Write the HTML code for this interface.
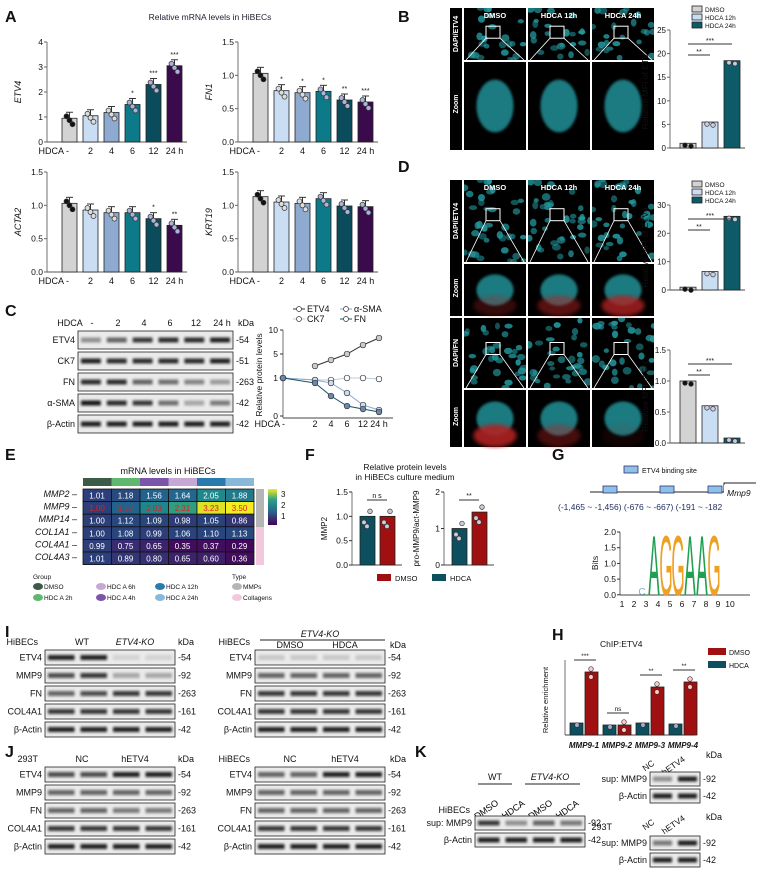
<!DOCTYPE html>
<html><head><meta charset="utf-8"><style>
body{margin:0;background:#fff}
svg{display:block;font-family:"Liberation Sans",Arial,sans-serif}
</style></head><body>
<svg id="s" width="765" height="882" viewBox="0 0 765 882" xmlns="http://www.w3.org/2000/svg">
<defs>
<filter id="bl" x="-20%" y="-50%" width="140%" height="200%"><feGaussianBlur stdDeviation="1.2"/></filter>
<filter id="bl2"><feGaussianBlur stdDeviation="2"/></filter>
</defs>
<g id="g"></g>
</svg>
<script>
const G=document.getElementById('g');let h='';
function T(x,y,t,o={}){h+=`<text x="${x}" y="${y}" font-size="${o.s||9}" fill="${o.c||'#111'}" text-anchor="${o.a||'start'}" ${o.b?'font-weight="bold"':''} ${o.i?'font-style="italic"':''} ${o.r?`transform="rotate(${o.r} ${x} ${y})"`:''}>${t}</text>`}
function R(x,y,w,hh,f,st){h+=`<rect x="${x}" y="${y}" width="${w}" height="${hh}" fill="${f}" ${st?`stroke="${st}" stroke-width="0.8"`:''}/>`}
function L(x1,y1,x2,y2,c,w){h+=`<line x1="${x1}" y1="${y1}" x2="${x2}" y2="${y2}" stroke="${c||'#333'}" stroke-width="${w||1}"/>`}
function C(x,y,r,f,st){h+=`<circle cx="${x}" cy="${y}" r="${r}" fill="${f}" stroke="${st||'#333'}" stroke-width="0.7"/>`}
[['A',5,22],['B',398,22],['C',5,316],['D',398,172],['E',5,460],['F',305,460],['G',552,460],['I',5,637],['H',552,640],['J',5,757],['K',415,757]].forEach(p=>T(p[1],p[2],p[0],{s:16,b:1}));
T(210,20,'Relative mRNA levels in HiBECs',{s:8.5,a:'middle',c:'#223'});
const cols=['#d3d3d3','#c9ddf3','#8eaad0','#0d7a8a','#0a4c5c','#3b0a4c'];
function barchart(ax,top,bot,ymax,ticks,vals,lab,stars){
 L(ax,top,ax,bot,'#888',1.2);L(ax,bot,ax+140,bot,'#555',1);
 ticks.forEach(t=>{let y=bot-(t/ymax)*(bot-top);L(ax-3,y,ax,y,'#666');T(ax-4,y+3,t,{s:8.5,a:'end'})});
 T(ax-26,(top+bot)/2,lab,{s:9,i:1,a:'middle',r:-90});
 vals.forEach((v,i)=>{let x=ax+15+i*21,y=bot-(v/ymax)*(bot-top);R(x,y,15,bot-y,cols[i],'#222');L(x+7.5,y,x+7.5,y-6,'#333');L(x+4,y-6,x+11,y-6,'#333');
  [-3,0,3].forEach((d,k)=>C(x+7.5+d,y+(k-1)*4+2,2.5,i==0?'#111':(i<3?'#ddd':'#aab4d8')));
  if(stars&&stars[i])T(x+7.5,y-9,stars[i],{s:7,a:'middle'});});
 ['HDCA -','2','4','6','12','24 h'].forEach((t,i)=>T(i==0?ax+22:ax+22.5+i*21,bot+12,t,{s:9,a:i==0?'end':'middle'}));
}
barchart(47,42,142,4,[0,1,2,3,4],[0.95,1.05,1.18,1.5,2.3,3.05],'ETV4',['','','','*','***','***']);
barchart(238,42,142,1.5,['0.0','0.5','1.0','1.5'],[1.03,0.77,0.74,0.76,0.63,0.6],'FN1',['','*','*','*','**','***']);
barchart(47,172,272,1.5,['0.0','0.5','1.0','1.5'],[1.03,0.93,0.89,0.89,0.8,0.7],'ACTA2',['','','','','*','**']);
barchart(238,172,272,1.5,['0.0','0.5','1.0','1.5'],[1.13,1.05,1.03,1.1,0.99,0.98],'KRT19',['','','','','','']);
function cells(x,y,w,hh,col,n,seed){let s=seed;function r(){s=(s*9301+49297)%233280;return s/233280}
 R(x,y,w,hh,'#000');h+=`<svg x="${x}" y="${y}" width="${w}" height="${hh}">`;for(let i=0;i<n;i++){h+=`<ellipse cx="${r()*w}" cy="${r()*hh}" rx="${2.5+r()*2}" ry="${2+r()*2}" fill="${col}" opacity="${0.5+r()*0.4}"/>`}h+='</svg>'}
function zoomc(x,y,w,hh,col,red){R(x,y,w,hh,'#000');h+=`<ellipse cx="${x+w/2}" cy="${y+hh/2}" rx="${w*0.3}" ry="${hh*0.3}" fill="${col}" opacity="0.8" filter="url(#bl)"/>`;if(red)h+=`<ellipse cx="${x+w/2}" cy="${y+hh*0.8}" rx="${w*0.35}" ry="${hh*0.2}" fill="#b02020" opacity="${red}" filter="url(#bl2)"/>`}
function micro(x,y,rows){
 let cy=y;rows.forEach((rw,ri)=>{R(x,cy,12,rw[0]+rw[1]+2,'#000');T(x+8,cy+rw[0]/2,rw[2],{s:7,c:'#fff',a:'middle',r:-90,b:1});T(x+8,cy+rw[0]+rw[1]/2,'Zoom',{s:7,c:'#fff',a:'middle',r:-90,b:1});
  for(let c=0;c<3;c++){let cx=x+14+c*64;cells(cx,cy,62,rw[0],rw[3],Math.round(rw[0]*0.45),ri*7+c*3+1);h+=`<rect x="${cx+22}" y="${cy+rw[0]*0.35}" width="14" height="12" fill="none" stroke="#fff"/>`;
   L(cx+22,cy+rw[0]*0.35+12,cx+2,cy+rw[0],'#fff',0.8);L(cx+36,cy+rw[0]*0.35+12,cx+60,cy+rw[0],'#fff',0.8);
   zoomc(cx,cy+rw[0]+2,62,rw[1],rw[3],rw[4]?rw[4][c]:0);}
  cy+=rw[0]+rw[1]+4;});
 ['DMSO','HDCA 12h','HDCA 24h'].forEach((t,c)=>T(x+45+c*64,y+10,t,{s:7.5,c:'#fff',a:'middle',b:1}));
}
micro(450,8,[[52,88,'DAPI/ETV4','#239aa0',[0,0,0]]]);
micro(450,180,[[82,52,'DAPI/ETV4','#239aa0',[0.3,0.5,0.8]],[70,57,'DAPI/FN','#239aa0',[0.9,0.4,0.1]]]);
function sbar(ax,top,bot,ymax,ticks,vals,lab,leg){L(ax,top,ax,bot,'#888',1.2);L(ax,bot,ax+75,bot,'#444');
 ticks.forEach(t=>{let y=bot-(t/ymax)*(bot-top);L(ax-3,y,ax,y,'#666');T(ax-4,y+3,t,{s:8,a:'end'})});
 T(ax-22,(top+bot)/2,lab,{s:8.5,a:'middle',r:-90});
 const cc=['#d3d3d3','#c9ddf3','#0d5a68'];vals.forEach((v,i)=>{let x=ax+10+i*22,y=bot-(v/ymax)*(bot-top);R(x,y,16,bot-y,cc[i],'#222');C(x+5,y+2,2.3,i==0?'#111':'#ccd');C(x+11,y+3,2.3,i==0?'#111':'#ccd')});
 L(ax+18,top+25,ax+40,top+25);T(ax+29,top+24,'**',{s:7,a:'middle'});L(ax+18,top+14,ax+62,top+14);T(ax+40,top+13,'***',{s:7,a:'middle'});
 if(leg){[0,1,2].forEach(i=>{R(ax+22,top-8+i*8-16,10,6,cc[i],'#222');T(ax+35,top-8+i*8-10,['DMSO','HDCA 12h','HDCA 24h'][i],{s:6.5})})}}
sbar(670,30,148,25,[0,5,10,15,20,25],[1,5.5,18.5],'Relative MFI of ETV4',1);
sbar(670,205,290,30,[0,10,20,30],[1,6.5,26],'Relative MFI of ETV4',1);
sbar(670,350,443,1.5,['0.0','0.5','1.0','1.5'],[1,0.6,0.08],'Relative MFI of FN',0);
function blot(x,y,w,hh,lanes){R(x,y,w,hh,'#eaeaea','#222');lanes.forEach((a,i)=>{let lw=w/lanes.length;h+=`<rect x="${x+i*lw+3}" y="${y+hh/2-2.5}" width="${lw-6}" height="5" fill="#111" opacity="${a}" filter="url(#bl)"/>`})}
function blotset(x,y,w,rows,kd,rh){rows.forEach((r,i)=>{let yy=y+i*(rh+3);T(x-3,yy+rh/2+3,r[0],{s:9,a:'end'});blot(x,yy,w,rh,r[1]);T(x+w+3,yy+rh/2+3,'-'+kd[i],{s:9})})}
T(70,326,'HDCA',{s:9,a:'middle'});['-','2','4','6','12','24 h'].forEach((t,i)=>T(92+i*26,326,t,{s:9,a:'middle'}));T(238,326,'kDa',{s:9});
blotset(78,331,155,[['ETV4',[.4,.6,.8,.85,.85,.9]],['CK7',[.9,.85,.85,.85,.85,.9]],['FN',[.85,.85,.6,.55,.45,.35]],['α-SMA',[.95,.85,.8,.55,.3,.5]],['β-Actin',[.9,.9,.9,.9,.9,.9]]],['54','51','263','42','42'],18);
{let ax=283;L(ax,330,ax,418,'#888',1.2);L(ax,418,ax+110,418,'#444');T(262,375,'Relative protein levels',{s:8.5,a:'middle',r:-90});
[['10',330],['5',354],['1',378],['0',416]].forEach(t=>{L(ax-3,t[1],ax,t[1]);T(ax-5,t[1]+3,t[0],{s:8.5,a:'end'})});
T(ax+2,427,'HDCA -',{s:9,a:'end'});['2','4','6','12','24 h'].forEach((t,i)=>T(ax+32+[0,16,32,48,64][i],427,t,{s:9,a:'middle'}));
const xs=[ax,ax+32,ax+48,ax+64,ax+80,ax+96];
function ser(ys,c,f){h+=`<polyline points="${xs.slice(ys[0]==null?1:0).map((x,i)=>x+','+ys.filter(v=>v!=null)[i]).join(' ')}" fill="none" stroke="${c}" stroke-width="1"/>`;ys.forEach((y,i)=>{if(y!=null)C(xs[i],y,2.8,f)})}
ser([null,366,360,354,345,338],'#333','#ccc');ser([378,380,380,378,378,379],'#bcd','#fff');ser([378,380,383,393,405,410],'#8aa8d0','#c9ddf3');ser([378,383,396,406,409,412],'#1a5060','#6a88b0');
[['ETV4','#333',293,312],['α-SMA','#8aa8d0',340,312],['CK7','#bcd',293,322],['FN','#1a5060',340,322]].forEach(l=>{L(l[2],l[3]-3,l[2]+12,l[3]-3,l[1]);C(l[2]+6,l[3]-3,2.5,'#fff');T(l[2]+14,l[3],l[0],{s:9})});}
T(168,474,'mRNA levels in HiBECs',{s:9,a:'middle'});
['#3b5b46','#5fb86e','#7a55a8','#c6a8d4','#2a7ab0','#8ab8d8'].forEach((c,i)=>R(83+i*28.5,478,28.5,8,c));
const hv=[[1.01,1.18,1.56,1.64,2.05,1.88],[1.00,1.57,2.03,2.31,3.23,3.50],[1.00,1.12,1.09,0.98,1.05,0.86],[1.00,1.08,0.99,1.06,1.10,1.13],[0.99,0.75,0.65,0.35,0.37,0.29],[1.01,0.89,0.80,0.65,0.60,0.36]];
function vcol(v){const st=[[0.2,[68,1,84]],[0.7,[59,40,110]],[1.1,[40,70,125]],[1.6,[35,100,140]],[2.1,[30,140,140]],[2.5,[70,170,110]],[3.2,[220,225,40]],[3.6,[250,240,30]]];
 for(let i=0;i<st.length-1;i++){if(v<=st[i+1][0]){let t=Math.max(0,(v-st[i][0])/(st[i+1][0]-st[i][0]));let c=st[i][1].map((a,k)=>Math.round(a+(st[i+1][1][k]-a)*t));return `rgb(${c})`}}return 'rgb(250,240,30)'}
const gn=['MMP2','MMP9','MMP14','COL1A1','COL4A1','COL4A3'];
hv.forEach((r,ri)=>{T(77,497+ri*12.6,gn[ri]+' –',{s:9,i:1,a:'end'});r.forEach((v,ci)=>{R(83+ci*28.5,489+ri*12.6,28.5,12.6,vcol(v),'#111');T(97+ci*28.5,498.5+ri*12.6,v.toFixed(2),{s:8,a:'middle',c:ri==1?'#e02020':'#fff'})})});
R(256,489,8,38,'#b5b5b5');R(256,527,8,38,'#f4c8dc');
h+=`<defs><linearGradient id="vg" x1="0" y1="1" x2="0" y2="0"><stop offset="0" stop-color="#44015a"/><stop offset=".4" stop-color="#2a6a8a"/><stop offset=".7" stop-color="#2aa08a"/><stop offset="1" stop-color="#f0e820"/></linearGradient></defs>`;
R(268,489,9,36,'url(#vg)');['3','2','1'].forEach((t,i)=>T(281,497+i*11,t,{s:8}));
T(33,579,'Group',{s:6.5});T(232,579,'Type',{s:6.5});
[['DMSO','#3b5b46',33,589],['HDC A 6h','#c6a8d4',96,589],['HDC A 12h','#2a7ab0',155,589],['MMPs','#b5b5b5',232,589],['HDC A 2h','#5fb86e',33,600],['HDC A 4h','#7a55a8',96,600],['HDC A 24h','#8ab8d8',155,600],['Collagens','#f4c8dc',232,600]].forEach(l=>{h+=`<ellipse cx="${l[2]+5}" cy="${l[3]-2.5}" rx="5" ry="3.5" fill="${l[1]}"/>`;T(l[2]+11,l[3],l[0],{s:6.5})});
T(405,470,'Relative protein levels',{s:8.5,a:'middle'});T(405,480,'in HiBECs culture medium',{s:8.5,a:'middle'});
function fbar(ax,top,bot,ymax,ticks,vals,lab,sig){L(ax,top,ax,bot,'#888',1.2);L(ax,bot,ax+50,bot,'#444');ticks.forEach(t=>{let y=bot-(t/ymax)*(bot-top);L(ax-3,y,ax,y);T(ax-4,y+3,t,{s:8.5,a:'end'})});T(ax-25,(top+bot)/2,lab,{s:8,a:'middle',r:-90});
 ['#0d4f5e','#a01010'].forEach((c,i)=>{let v=vals[i],x=ax+8+i*20,y=bot-(v/ymax)*(bot-top);R(x,y,15,bot-y,c,'#222');C(x+4,y+6,2.3,'#ccd');C(x+10,y-5,2.3,'#ccd');C(x+7,y+10,2.3,'#ccd')});L(ax+15,top+8,ax+35,top+8);T(ax+25,top+6,sig,{s:7,a:'middle'})}
fbar(352,492,565,1.5,['0.0','0.5','1.0','1.5'],[1,1],'MMP2','n s');
fbar(444,492,565,2,[0,1,2],[1,1.45],'pro-MMP9/act-MMP9','**');
R(377,574,14,7,'#a01010');T(395,581,'DMSO',{s:7.5});R(432,574,14,7,'#0d4f5e');T(450,581,'HDCA',{s:7.5});
R(624,466,14,7,'#8ec0ea','#336');T(642,473,'ETV4 binding site',{s:7});
L(590,492,740,492,'#222');[603,660,708].forEach(x=>R(x,486,14,7,'#8ec0ea','#336'));
h+=`<polyline points="724,492 724,483 756,483" fill="none" stroke="#222"/>`;R(724,485,30,14,'#fff');T(727,496,'Mmp9',{s:8.5,i:1});
T(558,510,'(-1,465 ~ -1,456) (-676 ~ -667) (-191 ~ -182',{s:8.5,c:'#203060'});
{let ax=620;L(ax,532,ax,595,'#666');L(ax,595,ax+130,595,'#444');['2.0','1.5','1.0','0.5','0.0'].forEach((t,i)=>{L(ax-3,532+i*15.7,ax,532+i*15.7);T(ax-4,535+i*15.7,t,{s:8.5,a:'end'})});T(598,563,'Bits',{s:8.5,a:'middle',r:-90});
[['A','#1ea050'],['G','#f0a020'],['G','#f0a020'],['A','#1ea050'],['A','#1ea050'],['G','#f0a020']].forEach((l,i)=>{let cx=ax+34+i*12;h+=`<text x="${cx}" y="595" font-size="22" fill="${l[1]}" text-anchor="middle" transform="translate(${cx} 595) scale(0.78 3.9) translate(${-cx} -595)">${l[0]}</text>`});
h+=`<text x="${ax+22}" y="595" font-size="10" fill="#4a90c0" text-anchor="middle" opacity="0.7">C</text>`;
for(let i=1;i<=10;i++)T(ax-10+i*12,607,i,{s:8.5,a:'middle'});}
T(600,647,'ChIP:ETV4',{s:8.5});
{let ax=565,bot=735;L(ax,660,ax,bot,'#888',1.2);L(ax,bot,ax+130,bot,'#444');T(548,700,'Relative enrichment',{s:7.5,a:'middle',r:-90});
[[1.2,6.3,'***'],[1,1,'ns'],[1.2,4.8,'**'],[1.1,5.3,'**']].forEach((p,i)=>{let x=ax+5+i*33;let y1=bot-p[0]*10,y2=bot-p[1]*10;R(x,y1,13,bot-y1,'#0d4f5e','#222');R(x+15,y2,13,bot-y2,'#a01010','#222');C(x+7,y1+2,2.3,'#aac');C(x+21,y2-3,2.3,'#fcc');C(x+21,y2+5,2.3,'#fcc');L(x+4,y2-12,x+26,y2-12);T(x+15,y2-14,p[2],{s:6.5,a:'middle'});
T(x+14,bot+13,'MMP9-'+(i+1),{s:8,i:1,b:1,a:'middle'})});
R(708,648,18,7,'#a01010');T(729,655,'DMSO',{s:7});R(708,661,18,7,'#0d4f5e');T(729,668,'HDCA',{s:7});}
T(38,645,'HiBECs',{s:9,a:'end'});T(82,645,'WT',{s:9,a:'middle'});T(135,645,'ETV4-KO',{s:9,a:'middle',i:1});T(178,645,'kDa',{s:9});
blotset(45,650,130,[['ETV4',[.9,.9,.1,.1]],['MMP9',[.7,.8,.3,.3]],['FN',[.6,.7,.8,.8]],['COL4A1',[.8,.8,.8,.8]],['β-Actin',[.9,.9,.9,.9]]],['54','92','263','161','42'],15);
T(250,645,'HiBECs',{s:9,a:'end'});T(320,637,'ETV4-KO',{s:9,a:'middle',i:1});L(260,640,385,640,'#222');T(290,648,'DMSO',{s:9,a:'middle'});T(345,648,'HDCA',{s:9,a:'middle'});T(390,648,'kDa',{s:9});
blotset(255,650,130,[['ETV4',[.15,.15,.15,.15]],['MMP9',[.6,.6,.6,.6]],['FN',[.8,.8,.8,.8]],['COL4A1',[.8,.8,.8,.8]],['β-Actin',[.9,.9,.9,.9]]],['54','92','263','161','42'],15);
T(38,762,'293T',{s:9,a:'end'});T(82,762,'NC',{s:9,a:'middle'});T(135,762,'hETV4',{s:9,a:'middle'});T(178,762,'kDa',{s:9});
blotset(45,767,130,[['ETV4',[.7,.7,.9,.9]],['MMP9',[.6,.6,.6,.6]],['FN',[.6,.6,.5,.5]],['COL4A1',[.8,.8,.8,.8]],['β-Actin',[.9,.9,.9,.9]]],['54','92','263','161','42'],15);
T(250,762,'HiBECs',{s:9,a:'end'});T(290,762,'NC',{s:9,a:'middle'});T(345,762,'hETV4',{s:9,a:'middle'});T(390,762,'kDa',{s:9});
blotset(255,767,130,[['ETV4',[.6,.6,.9,.9]],['MMP9',[.6,.6,.6,.6]],['FN',[.6,.6,.6,.6]],['COL4A1',[.8,.8,.8,.8]],['β-Actin',[.9,.9,.9,.9]]],['54','92','263','161','42'],15);
T(495,780,'WT',{s:9,a:'middle'});T(550,780,'ETV4-KO',{s:9,a:'middle',i:1});L(478,784,512,784,'#222');L(525,784,580,784,'#222');
T(470,813,'HiBECs',{s:9,a:'end'});['DMSO','HDCA','DMSO','HDCA'].forEach((t,i)=>h+=`<text x="${488+i*27}" y="812" font-size="9" transform="rotate(-35 ${488+i*27} 812)" text-anchor="middle">${t}</text>`);
blotset(475,816,110,[['sup: MMP9',[.8,.4,.6,.5]],['β-Actin',[.9,.9,.9,.9]]],['92','42'],14);
T(650,768,'NC',{s:8.5,a:'middle',r:-35});T(675,768,'hETV4',{s:8.5,a:'middle',r:-35});T(706,758,'kDa',{s:9});
blotset(650,772,50,[['sup: MMP9',[.4,.9]],['β-Actin',[.9,.9]]],['92','42'],14);
T(612,830,'293T',{s:9,a:'end'});T(650,827,'NC',{s:8.5,a:'middle',r:-35});T(675,827,'hETV4',{s:8.5,a:'middle',r:-35});T(706,820,'kDa',{s:9});
blotset(650,836,50,[['sup: MMP9',[.5,.9]],['β-Actin',[.9,.9]]],['92','42'],14);
G.innerHTML=h;
</script>
</body></html>
